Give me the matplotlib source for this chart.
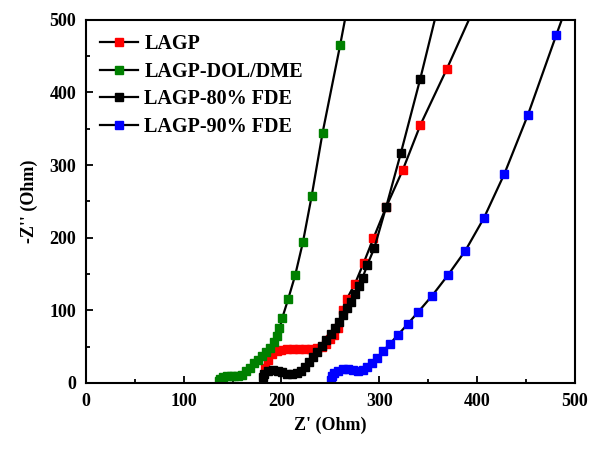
import matplotlib
matplotlib.use('Agg')
import matplotlib.pyplot as plt
from matplotlib.ticker import MultipleLocator

# Nyquist data (Z' , -Z'')
lagp_x = [183, 186, 190, 195, 200, 206, 212, 218, 224, 230, 236, 241, 246, 250,
          254, 258, 263, 267, 275, 284, 294, 307, 324, 342, 369, 400]
lagp_y = [20, 32, 40, 44, 46, 47, 47, 47, 47, 47, 48, 50, 54, 60,
          66, 75, 100, 116, 136, 165, 199, 242, 293, 355, 432, 525]

dol_x = [136, 137, 140, 144, 148, 152, 156, 160, 164, 168, 172, 176, 180, 184,
         188, 192, 195, 198, 201, 207, 214, 222, 231, 242, 260, 272]
dol_y = [3, 6, 8, 9, 9, 9, 9, 11, 16, 21, 27, 32, 37, 42,
         48, 56, 64, 75, 90, 116, 148, 194, 258, 344, 465, 550]

fde80_x = [181, 182, 186, 191, 196, 201, 206, 211, 216, 220, 224, 228, 232, 236,
           241, 246, 251, 255, 259, 263, 267, 271, 275, 279, 283, 288, 295, 307,
           322, 342, 365]
fde80_y = [8, 13, 17, 18, 17, 15, 13, 13, 14, 17, 22, 29, 36, 43,
           51, 59, 67, 75, 84, 93, 103, 112, 122, 133, 145, 163, 186, 242,
           316, 419, 545]

fde90_x = [251, 252, 254, 258, 263, 268, 273, 278, 283, 288, 293, 298, 304, 311,
           319, 329, 340, 354, 370, 388, 407, 428, 452, 481, 492]
fde90_y = [4, 9, 14, 17, 19, 19, 18, 17, 18, 22, 28, 35, 44, 54,
           66, 81, 98, 120, 148, 182, 227, 288, 369, 479, 520]

plt.rcParams['font.family'] = ['Liberation Serif', 'DejaVu Serif']
plt.rcParams['font.weight'] = 'bold'
plt.rcParams['axes.labelweight'] = 'bold'

fig = plt.figure(figsize=(5.92, 4.5), dpi=100)
ax = fig.add_axes([0.145, 0.149, 0.826, 0.807])

ms = 5.8
ax.plot(lagp_x, lagp_y, '-s', color='k', mfc='#ff0000', mec='#ff0000', ms=ms, lw=1.6, label='LAGP')
ax.plot(dol_x, dol_y, '-s', color='k', mfc='#008000', mec='#008000', ms=ms, lw=1.6, label='LAGP-DOL/DME')
ax.plot(fde80_x, fde80_y, '-s', color='k', mfc='k', mec='k', ms=ms, lw=1.6, label='LAGP-80% FDE')
ax.plot(fde90_x, fde90_y, '-s', color='k', mfc='#0000ff', mec='#0000ff', ms=ms, lw=1.6, label='LAGP-90% FDE')

ax.set_xlim(0, 500)
ax.set_ylim(0, 500)
ax.xaxis.set_major_locator(MultipleLocator(100))
ax.xaxis.set_minor_locator(MultipleLocator(50))
ax.yaxis.set_major_locator(MultipleLocator(100))
ax.yaxis.set_minor_locator(MultipleLocator(50))
ax.tick_params(which='both', direction='in', top=False, right=False, labelsize=13, width=1.3)
ax.tick_params(which='major', length=5, pad=7)
ax.tick_params(which='minor', length=3)
for s in ax.spines.values():
    s.set_linewidth(1.5)

ax.set_xlabel("Z' (Ohm)", fontsize=13, labelpad=5)
ax.set_ylabel("-Z'' (Ohm)", fontsize=13, labelpad=8)

ax.legend(loc='upper left', frameon=False, fontsize=14.5, handlelength=1.9,
          labelspacing=0.38, handletextpad=0.3, borderaxespad=0.3)

fig.savefig('out.png', dpi=100)
